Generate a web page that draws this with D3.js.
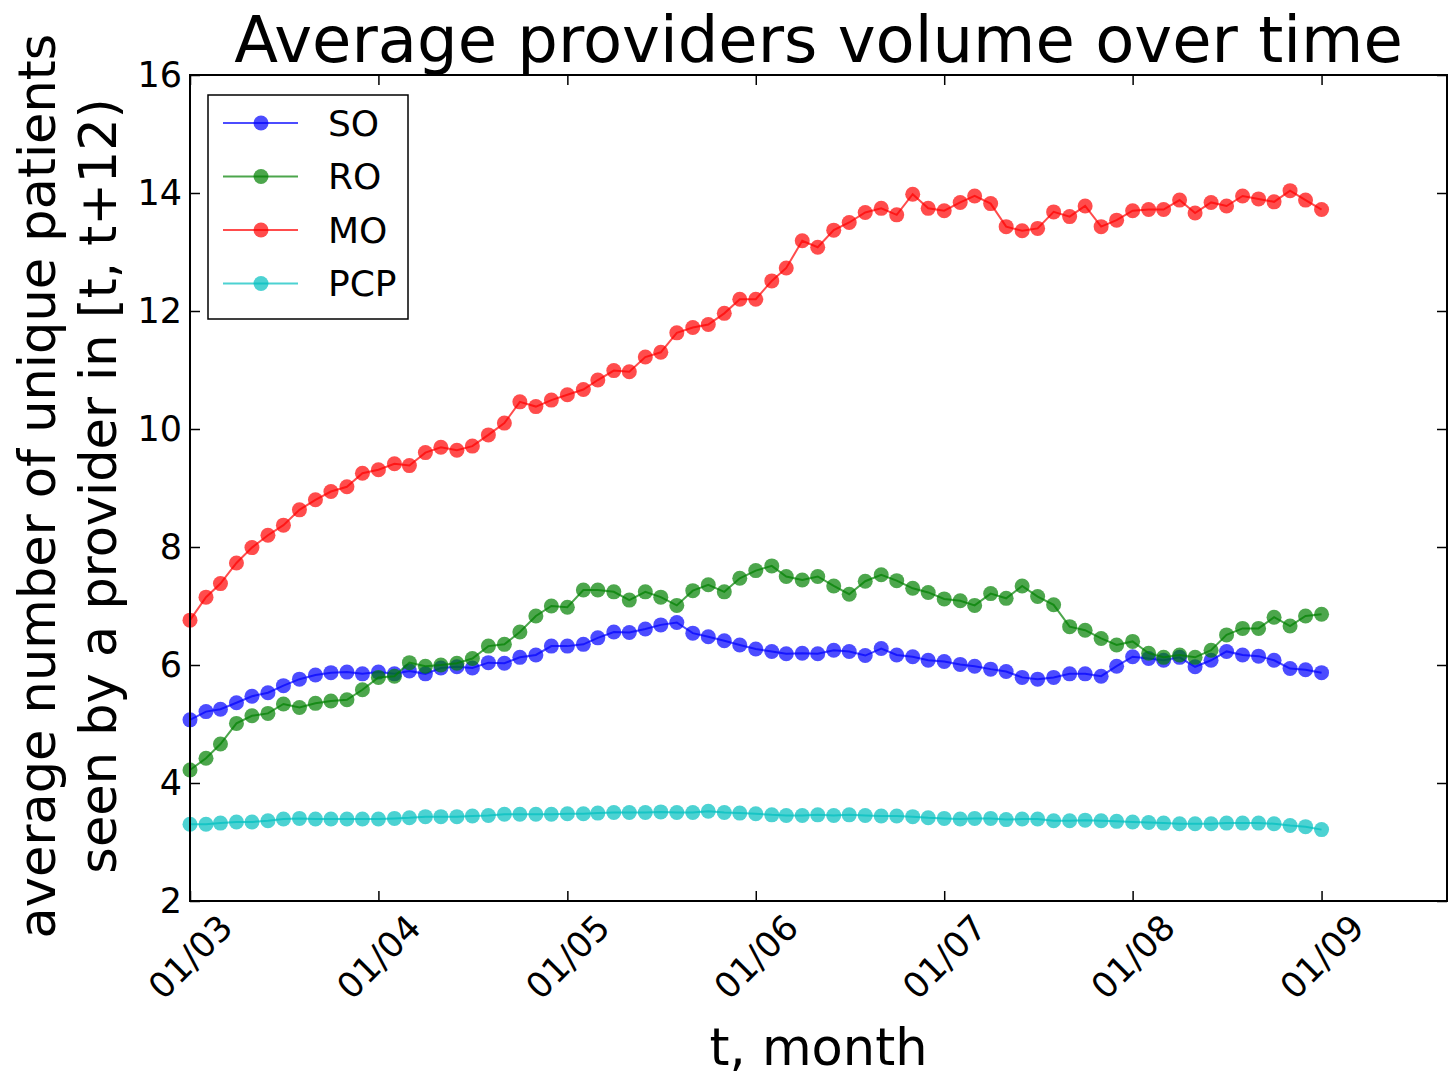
<!DOCTYPE html>
<meta charset="utf-8">
<style>
  body { margin: 0; background: #fff; }
  text { font-family: "DejaVu Sans", sans-serif; }
</style>
<svg width="1449" height="1077"></svg>
<script src="https://d3js.org/d3.v7.min.js"></script>
<script>

// monthly values, 01/2003 .. 01/2009
var seriesNames = ["SO", "RO", "MO", "PCP"];
var seriesColors = ["#0000ff", "#008000", "#ff0000", "#00bfbf"];

var so = [5.07, 5.21, 5.25, 5.36, 5.47, 5.53, 5.65, 5.76, 5.83, 5.87, 5.88, 5.85,
  5.88, 5.85, 5.90, 5.85, 5.95, 5.97, 5.95, 6.04, 6.03, 6.13, 6.17, 6.32,
  6.32, 6.35, 6.46, 6.56, 6.55, 6.61, 6.68, 6.72, 6.54, 6.48, 6.41, 6.34,
  6.27, 6.23, 6.19, 6.20, 6.19, 6.25, 6.23, 6.16, 6.28, 6.17, 6.14, 6.08,
  6.06, 6.01, 5.98, 5.93, 5.89, 5.79, 5.76, 5.79, 5.85, 5.85, 5.81, 5.98,
  6.14, 6.11, 6.08, 6.13, 5.97, 6.08, 6.23, 6.17, 6.15, 6.08, 5.94, 5.92,
  5.87];

var ro = [4.22, 4.42, 4.66, 5.01, 5.14, 5.18, 5.34, 5.28, 5.35, 5.39, 5.41, 5.58,
  5.79, 5.81, 6.04, 5.98, 6.00, 6.03, 6.11, 6.32, 6.35, 6.56, 6.83, 7.00,
  6.98, 7.27, 7.27, 7.24, 7.10, 7.24, 7.15, 7.01, 7.26, 7.36, 7.24, 7.47,
  7.60, 7.68, 7.50, 7.44, 7.50, 7.34, 7.20, 7.42, 7.53, 7.43, 7.30, 7.23,
  7.12, 7.09, 7.01, 7.21, 7.13, 7.34, 7.16, 7.02, 6.65, 6.59, 6.45, 6.34,
  6.40, 6.20, 6.13, 6.17, 6.13, 6.25, 6.51, 6.62, 6.62, 6.81, 6.66, 6.83,
  6.86];

var mo = [6.76, 7.15, 7.38, 7.73, 7.99, 8.20, 8.37, 8.63, 8.80, 8.94, 9.02, 9.25,
  9.31, 9.41, 9.38, 9.60, 9.69, 9.64, 9.71, 9.90, 10.10, 10.46, 10.38, 10.49,
  10.58, 10.67, 10.83, 10.99, 10.97, 11.22, 11.30, 11.63, 11.72, 11.77, 11.96, 12.20,
  12.20, 12.51, 12.73, 13.19, 13.08, 13.37, 13.50, 13.67, 13.74, 13.63, 13.98, 13.74,
  13.70, 13.84, 13.95, 13.82, 13.43, 13.36, 13.40, 13.68, 13.60, 13.78, 13.43, 13.54,
  13.70, 13.72, 13.72, 13.88, 13.66, 13.84, 13.78, 13.95, 13.90, 13.85, 14.04, 13.88,
  13.72];

var pcp = [3.30, 3.30, 3.32, 3.34, 3.34, 3.36, 3.39, 3.40, 3.39, 3.39, 3.39, 3.39,
  3.39, 3.40, 3.41, 3.43, 3.43, 3.43, 3.44, 3.45, 3.47, 3.47, 3.47, 3.47,
  3.48, 3.48, 3.49, 3.50, 3.50, 3.50, 3.51, 3.50, 3.50, 3.52, 3.50, 3.49,
  3.48, 3.46, 3.45, 3.45, 3.46, 3.45, 3.46, 3.45, 3.44, 3.44, 3.43, 3.41,
  3.40, 3.39, 3.40, 3.40, 3.38, 3.39, 3.39, 3.36, 3.36, 3.37, 3.36, 3.35,
  3.34, 3.33, 3.32, 3.31, 3.31, 3.31, 3.32, 3.32, 3.32, 3.31, 3.28, 3.26,
  3.21];

var yTicks = [2, 4, 6, 8, 10, 12, 14, 16];

var months = d3.timeMonth.range(new Date(2003, 0, 1), new Date(2009, 1, 1));
var xTicks = d3.timeYear.range(new Date(2003, 0, 1), new Date(2010, 0, 1));

var svg = d3.select("svg"),
    margin = {top: 75, right: 2, bottom: 176, left: 190},
    width = +svg.attr("width") - margin.left - margin.right,
    height = +svg.attr("height") - margin.top - margin.bottom;

svg.append("rect").attr("width", 1449).attr("height", 1077).attr("fill", "#fff");

var x = d3.scaleTime()
    .domain([new Date(2003, 0, 1), new Date(2009, 8, 1)])
    .range([0, width]);

var y = d3.scaleLinear()
    .domain([2, 16])
    .range([height, 0]);

var g = svg.append("g")
    .attr("transform", "translate(" + margin.left + "," + margin.top + ")");

var fmt = d3.timeFormat("%m/%y");

// axes, ticks pointing inward on all sides
var xb = g.append("g")
    .attr("transform", "translate(0," + height + ")")
    .call(d3.axisBottom(x).tickValues(xTicks).tickSize(-10).tickFormat(fmt));

xb.selectAll("text")
    .attr("y", 0)
    .attr("dy", null)
    .attr("text-anchor", "middle")
    .attr("dominant-baseline", "central")
    .attr("transform", "translate(0,56) rotate(-45)");

g.append("g")
    .call(d3.axisTop(x).tickValues(xTicks).tickSize(-10).tickFormat(""));

g.append("g")
    .call(d3.axisLeft(y).tickValues(yTicks).tickSize(-10).tickPadding(8));

g.append("g")
    .attr("transform", "translate(" + width + ",0)")
    .call(d3.axisRight(y).tickValues(yTicks).tickSize(-10).tickFormat(""));

g.selectAll(".domain").remove();
g.selectAll(".tick line").attr("stroke", "#000").attr("stroke-width", 1.5);
g.selectAll(".tick text")
    .attr("fill", "#000")
    .attr("font-family", "DejaVu Sans")
    .attr("font-size", 35);

// series
var seriesData = [so, ro, mo, pcp];

var line = d3.line()
    .x(function(d, i) { return x(months[i]); })
    .y(function(d) { return y(d); });

seriesData.forEach(function(vals, k) {
  var s = g.append("g").attr("class", "series");
  s.append("path")
      .attr("d", line(vals))
      .attr("fill", "none")
      .attr("stroke", seriesColors[k])
      .attr("stroke-opacity", 0.7)
      .attr("stroke-width", 2);
  s.selectAll("circle")
    .data(vals)
    .enter().append("circle")
      .attr("cx", function(d, i) { return x(months[i]); })
      .attr("cy", function(d) { return y(d); })
      .attr("r", 7.5)
      .attr("fill", seriesColors[k])
      .attr("fill-opacity", 0.7);
});

// frame
g.append("rect")
    .attr("width", width)
    .attr("height", height)
    .attr("fill", "none")
    .attr("stroke", "#000")
    .attr("stroke-width", 2);

// legend
var legend = g.append("g")
    .attr("transform", "translate(18,20)");

legend.append("rect")
    .attr("width", 200)
    .attr("height", 224)
    .attr("fill", "#fff")
    .attr("stroke", "#000")
    .attr("stroke-width", 1.5);

var item = legend.selectAll(".item")
    .data(seriesNames)
  .enter().append("g")
    .attr("transform", function(d, i) { return "translate(0," + (28 + i * 53.5) + ")"; });

item.append("line")
    .attr("x1", 15).attr("x2", 90)
    .attr("stroke", function(d, i) { return seriesColors[i]; })
    .attr("stroke-opacity", 0.7)
    .attr("stroke-width", 2);

item.append("circle")
    .attr("cx", 53)
    .attr("r", 7.5)
    .attr("fill", function(d, i) { return seriesColors[i]; })
    .attr("fill-opacity", 0.7);

item.append("text")
    .attr("x", 120)
    .attr("dominant-baseline", "central")
    .attr("font-size", 36)
    .text(function(d) { return d; });

// titles
svg.append("text")
    .attr("x", margin.left + width / 2)
    .attr("y", 62)
    .attr("text-anchor", "middle")
    .attr("font-size", 64)
    .text("Average providers volume over time");

svg.append("text")
    .attr("x", margin.left + width / 2)
    .attr("y", 1065)
    .attr("text-anchor", "middle")
    .attr("font-size", 51)
    .text("t, month");

var ylab = svg.append("text")
    .attr("transform", "translate(55,486) rotate(-90)")
    .attr("text-anchor", "middle")
    .attr("font-size", 51);

ylab.append("tspan").attr("x", 0).attr("y", 0).text("average number of unique patients");
ylab.append("tspan").attr("x", 0).attr("y", 61).text("seen by a provider in [t, t+12)");

</script>
